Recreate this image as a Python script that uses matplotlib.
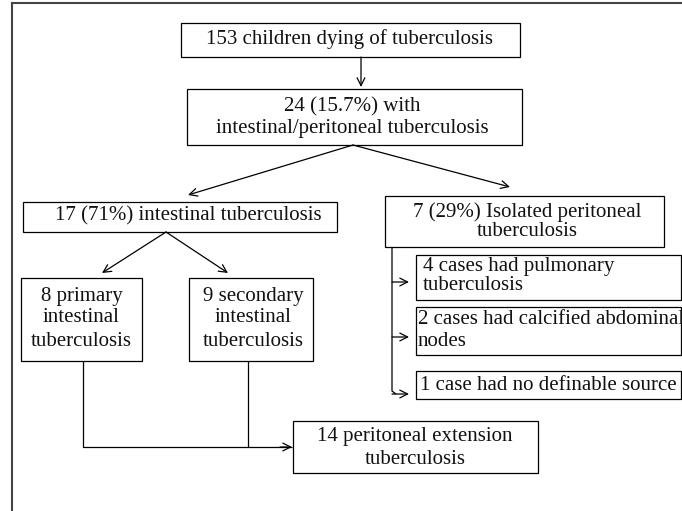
import matplotlib
matplotlib.use("Agg")
import matplotlib.pyplot as plt
from matplotlib.patches import Rectangle

plt.rcParams['font.family'] = 'serif'
plt.rcParams['font.serif'] = ['Liberation Serif', 'DejaVu Serif']

W, H = 682, 511

# box texts (one entry per line)
top_lines = ["153 children dying of tuberculosis"]
itb_lines = ["24 (15.7%) with", "intestinal/peritoneal tuberculosis"]
intestinal_lines = ["17 (71%) intestinal tuberculosis"]
isolated_lines = ["7 (29%) Isolated peritoneal", "tuberculosis"]
primary_lines = ["8 primary", "intestinal", "tuberculosis"]
secondary_lines = ["9 secondary", "intestinal", "tuberculosis"]
extension_lines = ["14 peritoneal extension", "tuberculosis"]
source_labels = [
    ["4 cases had pulmonary", "tuberculosis"],
    ["2 cases had calcified abdominal", "nodes"],
    ["1 case had no definable source"],
]

FS = 15
LW = 0.9

fig = plt.figure(figsize=(W / 100, H / 100), dpi=100)
ax = fig.add_axes([0, 0, 1, 1])
ax.set_xlim(0, W)
ax.set_ylim(H, 0)
ax.axis('off')


def box(x0, y0, x1, y1):
    ax.add_patch(Rectangle((x0, y0), x1 - x0, y1 - y0, fill=False,
                           edgecolor='black', lw=LW, clip_on=True))


def lines_at(lines, x, ys, ha='center'):
    for txt, y in zip(lines, ys):
        ax.text(x, y, txt, fontsize=FS, ha=ha, va='center', color='#111111')


def arrow(p0, p1):
    ax.annotate('', xy=p1, xytext=p0,
                arrowprops=dict(arrowstyle='->', lw=LW, color='black',
                                shrinkA=0, shrinkB=0, mutation_scale=14))


def seg(xs, ys):
    ax.plot(xs, ys, color='black', lw=LW, solid_capstyle='butt')


# outer frame (only top and left visible)
ax.plot([11.5, W + 5], [3.5, 3.5], color='#444444', lw=1.5)
ax.plot([11.5, 11.5], [3.5, H + 5], color='#444444', lw=1.5)

# level 1
box(181, 23, 520, 57)
lines_at(top_lines, 349, [39])
arrow((361, 57), (361, 87))

# level 2
box(187, 89, 522, 145)
lines_at(itb_lines, 352, [107, 129])
arrow((353, 145), (188, 195))
arrow((353, 145), (510, 187))

# level 3
box(23, 202, 337, 232)
lines_at(intestinal_lines, 188, [216])
box(385, 196, 664, 247)
lines_at(isolated_lines, 527, [212, 232])

arrow((166, 232), (102, 273))
arrow((166, 232), (228, 273))

# primary / secondary
box(21, 278, 142, 361)
lines_at(primary_lines, 81.5, [296, 318, 341])
box(189, 278, 313, 361)
lines_at(secondary_lines, 253, [296, 318, 341])

# merge to peritoneal extension
seg([83, 83, 292], [361, 447, 447])
seg([248, 248], [361, 447])
arrow((280, 447), (292, 447))
box(293, 421, 538, 473)
lines_at(extension_lines, 415, [437, 459])

# isolated peritoneal sources
seg([392, 392, 396], [247, 391, 394])
src_boxes = [(255, 300), (307, 355), (371, 399)]
src_arrow_y = [282, 337, 394]
src_text_y = [[267, 285], [320, 342], [385]]
src_text_x = [423, 418, 420]
for lab, (y0, y1), ay, tys, tx in zip(source_labels, src_boxes, src_arrow_y,
                                       src_text_y, src_text_x):
    box(416, y0, 681, y1)
    arrow((392, ay), (409, ay))
    lines_at(lab, tx, tys, ha='left')

fig.savefig('out.png', dpi=100)
